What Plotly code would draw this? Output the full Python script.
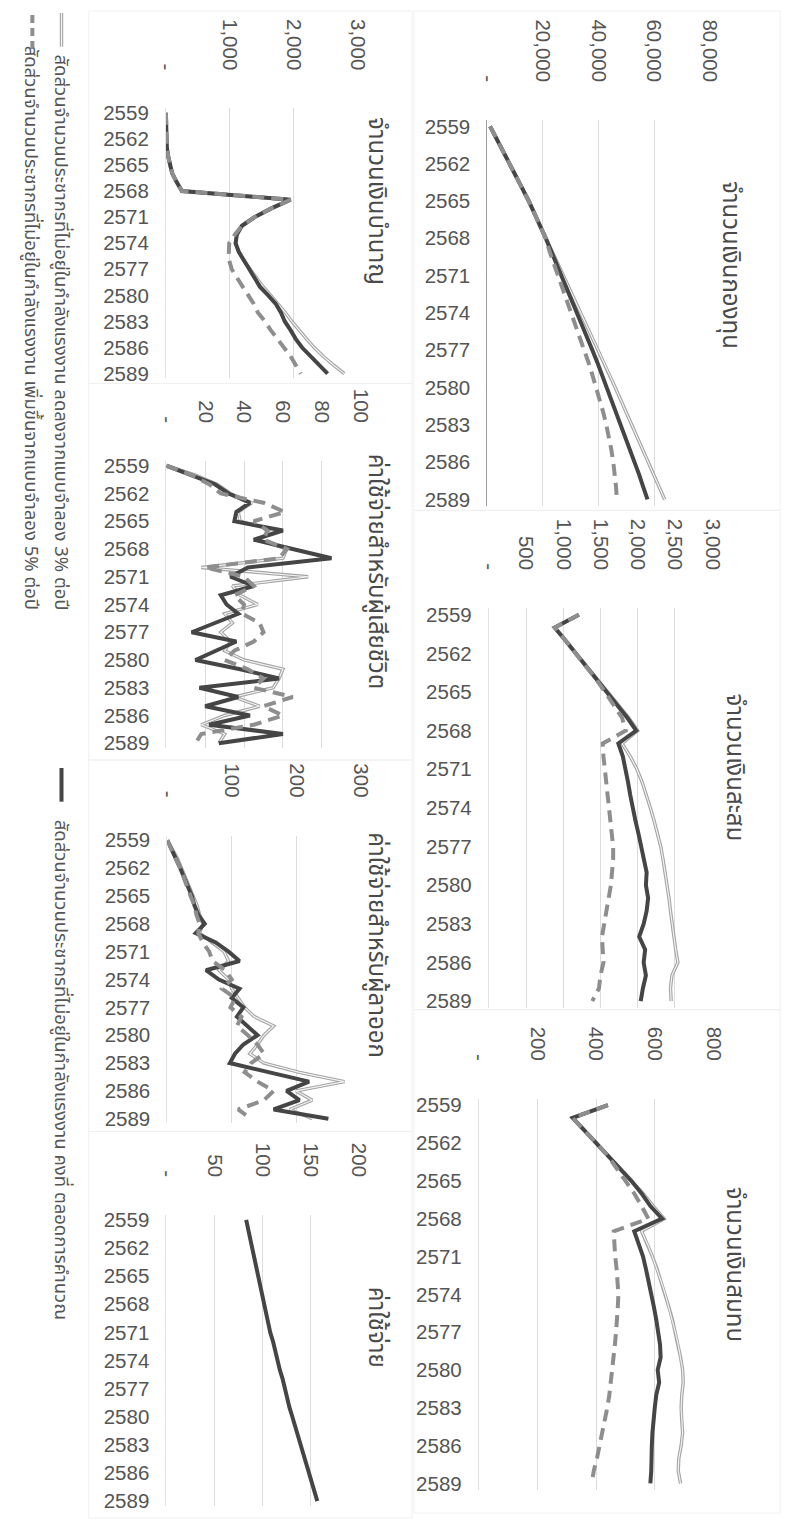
import plotly.graph_objects as go

W, H = 797, 1530

years = list(range(2559, 2590))
year_ticks = list(range(2559, 2590, 3))

# scenario names
label_dec3 = "สัดส่วนจำนวนประชากรที่ไม่อยู่ในกำลังแรงงาน ลดลงจากแบบจำลอง 3% ต่อปี"
label_const = "สัดส่วนจำนวนประชากรที่ไม่อยู่ในกำลังแรงงาน คงที่ ตลอดการคำนวณ"
label_inc5 = "สัดส่วนจำนวนประชากรที่ไม่อยู่ในกำลังแรงงาน เพิ่มขึ้นจากแบบจำลอง 5% ต่อปี"

# จำนวนเงินกองทุน
fund_dec3 = [1000, 3400, 5700, 8000, 10300, 12600, 14900, 17000, 19100, 21000, 23200, 25300, 27400,
             29500, 31600, 33700, 35800, 37900, 40000, 42000, 44000, 46000, 48000, 50000, 52000,
             54000, 56000, 58000, 60000, 62000, 63800]
fund_const = [1000, 3400, 5700, 8000, 10300, 12600, 14900, 17000, 19100, 21000, 22900, 24800, 26700,
              28600, 30500, 32400, 34200, 36000, 37800, 39600, 41300, 43000, 44700, 46400, 48100,
              49800, 51400, 53000, 54600, 56100, 57600]
fund_inc5 = [1000, 3400, 5700, 8000, 10300, 12600, 14900, 17000, 19100, 21000, 22300, 23900, 25500,
             27100, 28700, 30300, 31900, 33400, 34900, 36400, 37800, 39200, 40500, 41700, 42800,
             43800, 44600, 45300, 45900, 46300, 46600]

# จำนวนเงินสะสม
accum_dec3 = [1210, 885, 1030, 1170, 1310, 1450, 1590, 1740, 1880, 2000, 1790, 1900, 1990, 2060, 2120,
              2170, 2220, 2270, 2310, 2340, 2370, 2400, 2420, 2440, 2460, 2480, 2510, 2540, 2460, 2440, 2450]
accum_const = [1210, 885, 1030, 1170, 1310, 1450, 1590, 1730, 1860, 1980, 1740, 1800, 1840, 1870, 1900,
               1930, 1970, 2010, 2050, 2090, 2120, 2110, 2140, 2120, 2080, 2020, 2100, 2080, 2110, 2070, 2040]
accum_inc5 = [1210, 885, 1030, 1170, 1310, 1440, 1560, 1680, 1790, 1840, 1530, 1540, 1560, 1580, 1600,
              1620, 1640, 1660, 1670, 1670, 1660, 1640, 1610, 1580, 1550, 1520, 1530, 1540, 1500, 1480, 1390]

# จำนวนเงินสมทบ
contrib_dec3 = [440, 320, 360, 400, 440, 480, 520, 560, 595, 632, 555, 575, 592, 608, 622, 636, 648, 660,
                670, 680, 688, 695, 697, 692, 690, 692, 695, 690, 682, 680, 688]
contrib_const = [440, 320, 360, 400, 440, 480, 520, 555, 585, 625, 530, 545, 560, 570, 580, 590, 597, 605,
                 612, 618, 620, 610, 615, 605, 600, 595, 592, 590, 590, 588, 585]
contrib_inc5 = [440, 320, 360, 400, 440, 470, 500, 530, 555, 578, 460, 462, 465, 470, 474, 476, 474, 472,
                468, 464, 460, 455, 450, 445, 438, 430, 422, 412, 403, 392, 385]

# จำนวนเงินบำนาญ
pension_dec3 = [0, 0, 0, 5, 15, 35, 60, 100, 170, 250, 1950, 1650, 1390, 1190, 1110, 1090, 1140, 1220,
                1320, 1420, 1520, 1640, 1760, 1870, 1970, 2080, 2200, 2320, 2460, 2620, 2790]
pension_const = [0, 0, 0, 5, 15, 35, 60, 100, 170, 250, 1950, 1650, 1390, 1190, 1110, 1090, 1140, 1220,
                 1300, 1390, 1470, 1600, 1720, 1800, 1860, 1950, 2030, 2130, 2260, 2410, 2530]
pension_inc5 = [0, 0, 0, 5, 15, 35, 60, 100, 170, 250, 1950, 1650, 1390, 1190, 1080, 990, 985, 990,
                1030, 1110, 1200, 1290, 1375, 1440, 1550, 1640, 1740, 1840, 1950, 2030, 2110]

# ค่าใช้จ่ายสำหรับผู้เสียชีวิต
death_dec3 = [0, 15, 26, 33, 44, 37, 38, 55, 47, 62, 60, 18, 73, 34, 38, 47, 30, 34, 28, 33, 30, 40,
              60, 58, 55, 35, 48, 30, 18, 30, 27]
death_const = [0, 12, 25, 32, 43, 36, 35, 60, 45, 65, 85, 42, 33, 45, 28, 31, 37, 25, 13, 36, 26, 15,
               38, 58, 17, 37, 20, 43, 22, 60, 27]
death_inc5 = [0, 13, 22, 28, 50, 61, 45, 52, 50, 62, 58, 20, 40, 45, 35, 40, 39, 48, 50, 45, 35, 30,
              42, 50, 45, 65, 50, 60, 45, 18, 15]

# ค่าใช้จ่ายสำหรับผู้ลาออก
resign_dec3 = [0, 8, 16, 22, 28, 34, 40, 46, 50, 55, 50, 70, 88, 95, 80, 95, 100, 110, 120, 135, 165,
               150, 140, 128, 150, 205, 275, 200, 225, 190, 225]
resign_const = [0, 7, 14, 20, 26, 32, 38, 42, 48, 58, 44, 75, 95, 112, 60, 80, 112, 100, 118, 108, 125,
                140, 118, 105, 97, 160, 220, 185, 205, 165, 250]
resign_inc5 = [0, 6, 13, 20, 25, 30, 36, 42, 45, 50, 48, 55, 65, 70, 90, 100, 85, 105, 98, 115, 108,
               125, 140, 150, 130, 120, 140, 165, 150, 110, 130]

# ค่าใช้จ่าย
expense_const = [83, 85, 87, 89, 91, 93, 95, 97, 99, 101, 104, 106, 108, 111, 113, 116, 118, 121, 123,
                 126, 128, 131, 134, 137, 139, 142, 145, 148, 151, 154, 157]

# value-axis ticks
fund_ticks = [0, 20000, 40000, 60000, 80000]
fund_ticktext = ["-", "20,000", "40,000", "60,000", "80,000"]
accum_ticks = [0, 500, 1000, 1500, 2000, 2500, 3000]
accum_ticktext = ["-", "500", "1,000", "1,500", "2,000", "2,500", "3,000"]
contrib_ticks = [0, 200, 400, 600, 800]
contrib_ticktext = ["-", "200", "400", "600", "800"]
pension_ticks = [0, 1000, 2000, 3000]
pension_ticktext = ["-", "1,000", "2,000", "3,000"]
death_ticks = [0, 20, 40, 60, 80, 100]
death_ticktext = ["-", "20", "40", "60", "80", "100"]
resign_ticks = [0, 100, 200, 300]
resign_ticktext = ["-", "100", "200", "300"]
expense_ticks = [0, 50, 100, 150, 200]
expense_ticktext = ["-", "50", "100", "150", "200"]

TXT = "#555555"
TITLE_C = "#4a4a4a"
DARK = "#454545"
DASH_C = "#8e8e8e"
LIGHT_OUT = "#a4a4a4"
LIGHT_IN = "#f3f3f3"
GRID = "#dcdcdc"
NUM_FONT = "Liberation Sans, Arial, sans-serif"
THAI_FONT = "Noto Sans Thai, Loma, Garuda, Tahoma, sans-serif"


def px_x(v):
    return v / W


def px_y(v):
    return 1 - v / H


# panel: title, title centre (px), plot box (px), value range, ticks, series
panels = [
    dict(title="จำนวนเงินกองทุน", tc=(741, 260), box=(490.5, 719.5, 114.2, 503.3), vmax=80000,
         tv=fund_ticks, tt=fund_ticktext, s=(fund_dec3, fund_const, fund_inc5), axisline=True),
    dict(title="จำนวนเงินสะสม", tc=(744, 767), box=(492, 722, 606.8, 1009.8), vmax=3000,
         tv=accum_ticks, tt=accum_ticktext, s=(accum_dec3, accum_const, accum_inc5)),
    dict(title="จำนวนเงินสมทบ", tc=(744, 1269), box=(481.7, 723.3, 1102, 1496.4), vmax=800,
         tv=contrib_ticks, tt=contrib_ticktext, s=(contrib_dec3, contrib_const, contrib_inc5)),
    dict(title="จำนวนเงินบำนาญ", tc=(376, 196), box=(159.5, 357, 102.3, 374.4), vmax=3000,
         tv=pension_ticks, tt=pension_ticktext, s=(pension_dec3, pension_const, pension_inc5)),
    dict(title="ค่าใช้จ่ายสำหรับผู้เสียชีวิต", tc=(376, 570), box=(160, 360, 458.3, 747.7), vmax=100,
         tv=death_ticks, tt=death_ticktext, s=(death_dec3, death_const, death_inc5)),
    dict(title="ค่าใช้จ่ายสำหรับผู้ลาออก", tc=(376, 947), box=(161, 360, 836.3, 1126.7), vmax=300,
         tv=resign_ticks, tt=resign_ticktext, s=(resign_dec3, resign_const, resign_inc5)),
    dict(title="ค่าใช้จ่าย", tc=(376, 1332), box=(160, 358, 1219.3, 1512.7), vmax=200,
         tv=expense_ticks, tt=expense_ticktext, s=(None, expense_const, None)),
]

fig = go.Figure()
annotations = []
shapes = []

for i, p in enumerate(panels, start=1):
    sfx = "" if i == 1 else str(i)
    xa, ya = "x" + sfx, "y" + sfx
    dec3, const, inc5 = p["s"]
    if dec3 is not None:
        fig.add_trace(go.Scatter(x=dec3, y=years, xaxis=xa, yaxis=ya, mode="lines",
                                 line=dict(color=LIGHT_OUT, width=3.4), showlegend=False,
                                 hoverinfo="skip"))
        fig.add_trace(go.Scatter(x=dec3, y=years, xaxis=xa, yaxis=ya, mode="lines",
                                 line=dict(color=LIGHT_IN, width=1.2), name=label_dec3,
                                 showlegend=False))
    fig.add_trace(go.Scatter(x=const, y=years, xaxis=xa, yaxis=ya, mode="lines",
                             line=dict(color=DARK, width=4), name=label_const, showlegend=False))
    if inc5 is not None:
        fig.add_trace(go.Scatter(x=inc5, y=years, xaxis=xa, yaxis=ya, mode="lines",
                                 line=dict(color=DASH_C, width=4, dash="12px,7px"),
                                 name=label_inc5, showlegend=False))

    x0, x1, y0, y1 = p["box"]
    fig.layout["xaxis" + sfx] = dict(
        domain=[px_x(x0), px_x(x1)], range=[0, p["vmax"]], side="top", anchor=ya,
        tickvals=p["tv"], ticktext=p["tt"], tickangle=90, ticks="",
        tickfont=dict(family=NUM_FONT, size=20.5, color=TXT), ticklabelstandoff=34,
        showgrid=True, gridcolor=GRID, gridwidth=1, zeroline=False, showline=False,
        fixedrange=True,
    )
    fig.layout["yaxis" + sfx] = dict(
        domain=[px_y(y1), px_y(y0)], range=[2589.5, 2558.5], anchor=xa, side="left",
        tickvals=year_ticks, ticks="", tickfont=dict(family=NUM_FONT, size=20.5, color=TXT),
        ticklabelstandoff=12, showgrid=False, zeroline=False,
        showline=True, linecolor="#9a9a9a" if p.get("axisline") else "#e2e2e2", linewidth=1,
        fixedrange=True,
    )
    annotations.append(dict(text=p["title"], x=px_x(p["tc"][0]), y=px_y(p["tc"][1]),
                            xref="paper", yref="paper", showarrow=False, textangle=90,
                            xanchor="center", yanchor="middle",
                            font=dict(family=THAI_FONT, size=24, color=TITLE_C)))

# faint chart-area frames
frames = [(415, 792, 4, 508), (415, 792, 508, 1012), (415, 792, 1012, 1520),
          (80, 413, 4, 380), (80, 413, 380, 760), (80, 413, 760, 1135), (80, 413, 1135, 1525)]
for fx0, fx1, fy0, fy1 in frames:
    shapes.append(dict(type="rect", xref="paper", yref="paper", x0=px_x(fx0), x1=px_x(fx1),
                       y0=px_y(fy1), y1=px_y(fy0), line=dict(color="#f0f0f0", width=1)))

# legend (drawn rotated along the left edge)
shapes += [
    dict(type="line", xref="paper", yref="paper", x0=px_x(52), x1=px_x(52), y0=px_y(6), y1=px_y(40),
         line=dict(color=LIGHT_OUT, width=3.4)),
    dict(type="line", xref="paper", yref="paper", x0=px_x(52), x1=px_x(52), y0=px_y(6), y1=px_y(40),
         line=dict(color=LIGHT_IN, width=1.2)),
    dict(type="line", xref="paper", yref="paper", x0=px_x(52), x1=px_x(52), y0=px_y(768),
         y1=px_y(802), line=dict(color=DARK, width=4)),
    dict(type="line", xref="paper", yref="paper", x0=px_x(22), x1=px_x(22), y0=px_y(8), y1=px_y(45),
         line=dict(color=DASH_C, width=4, dash="8px,5px")),
]
for txt, cx, cy in [(label_dec3, 51, 328), (label_const, 51, 1072), (label_inc5, 21, 324)]:
    annotations.append(dict(text=txt, x=px_x(cx), y=px_y(cy), xref="paper", yref="paper",
                            showarrow=False, textangle=90, xanchor="center", yanchor="middle",
                            font=dict(family=THAI_FONT, size=18.5, color=TXT)))

fig.update_layout(width=W, height=H, autosize=False, margin=dict(l=0, r=0, t=0, b=0),
                  paper_bgcolor="white", plot_bgcolor="white", showlegend=False,
                  annotations=annotations, shapes=shapes)

fig.write_html("out.html", config={"displayModeBar": False},
               post_script="document.body.style.margin='0px';document.body.style.overflow='hidden';")
